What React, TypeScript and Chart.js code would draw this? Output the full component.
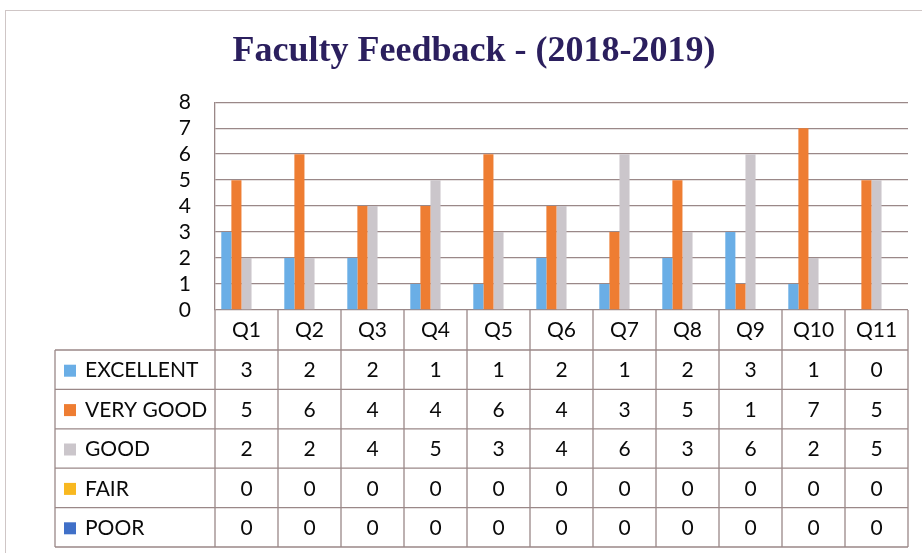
import React, { useEffect, useRef } from "react";
import { Chart, registerables } from "chart.js";

Chart.register(...registerables);

const categories = ["Q1", "Q2", "Q3", "Q4", "Q5", "Q6", "Q7", "Q8", "Q9", "Q10", "Q11"];
const excellent = [3, 2, 2, 1, 1, 2, 1, 2, 3, 1, 0];
const veryGood = [5, 6, 4, 4, 6, 4, 3, 5, 1, 7, 5];
const good = [2, 2, 4, 5, 3, 4, 6, 3, 6, 2, 5];
const fair = [0, 0, 0, 0, 0, 0, 0, 0, 0, 0, 0];
const poor = [0, 0, 0, 0, 0, 0, 0, 0, 0, 0, 0];
const seriesLabels = ["EXCELLENT", "VERY GOOD", "GOOD", "FAIR", "POOR"];
const seriesColors = ["#6aaee6", "#ee7d32", "#cbc6cb", "#f8b820", "#4070c8"];
const yMin = 0;
const yMax = 8;
const titleText = "Faculty Feedback - (2018-2019)";

const GRID = "#9a8888";
const TEXT = "#0a0a0a";
const FONT = "Lato, 'Open Sans', sans-serif";
const HEADER_H = 40;
const ROW_H = 39.4;
const LEGEND_LEFT = 55;

const tablePlugin = {
  id: "dataTable",
  beforeDraw(chart: any) {
    const ctx = chart.ctx;
    ctx.save();
    ctx.fillStyle = "#ffffff";
    ctx.fillRect(0, 0, chart.width, chart.height);
    ctx.strokeStyle = "#cfc6c6";
    ctx.lineWidth = 1;
    ctx.strokeRect(5.5, 10.5, chart.width + 20, chart.height + 20);
    ctx.restore();
  },
  afterDraw(chart: any) {
    const ctx = chart.ctx;
    const xs = chart.scales.x;
    const area = chart.chartArea;
    const n = categories.length;
    const step = (xs.getPixelForValue(n - 1) - xs.getPixelForValue(0)) / (n - 1);
    const left = xs.getPixelForValue(0) - step / 2;
    const right = xs.getPixelForValue(n - 1) + step / 2;
    const top = area.bottom;
    const headerBottom = top + HEADER_H;
    const rows = chart.data.datasets.length;
    const bottom = headerBottom + rows * ROW_H;

    ctx.save();
    ctx.strokeStyle = GRID;
    ctx.lineWidth = 1.3;
    ctx.beginPath();
    for (let r = 0; r <= rows; r++) {
      const y = headerBottom + r * ROW_H;
      ctx.moveTo(LEGEND_LEFT, y);
      ctx.lineTo(right, y);
    }
    for (let i = 0; i <= n; i++) {
      const x = left + i * step;
      ctx.moveTo(x, top);
      ctx.lineTo(x, bottom);
    }
    ctx.moveTo(LEGEND_LEFT, headerBottom);
    ctx.lineTo(LEGEND_LEFT, bottom);
    ctx.stroke();

    ctx.font = `21px ${FONT}`;
    ctx.textBaseline = "middle";
    chart.data.datasets.forEach((ds: any, r: number) => {
      const cy = headerBottom + r * ROW_H + ROW_H / 2;
      ctx.fillStyle = ds.backgroundColor;
      ctx.fillRect(LEGEND_LEFT + 9, cy - 5, 12, 12);
      ctx.fillStyle = TEXT;
      ctx.textAlign = "left";
      ctx.fillText(ds.label, LEGEND_LEFT + 30, cy + 1);
      ctx.textAlign = "center";
      ds.data.forEach((v: number, i: number) => {
        ctx.fillText(String(v), xs.getPixelForValue(i), cy + 1);
      });
    });
    ctx.restore();
  },
};

export default function App() {
  const ref = useRef<HTMLCanvasElement | null>(null);
  useEffect(() => {
    document.body.style.margin = "0";
    const series = [excellent, veryGood, good, fair, poor];
    const chart = new Chart(ref.current as HTMLCanvasElement, {
      type: "bar",
      data: {
        labels: categories,
        datasets: series.map((d, i) => ({
          label: seriesLabels[i],
          data: d,
          backgroundColor: seriesColors[i],
          borderWidth: 0,
          categoryPercentage: 0.8,
          barPercentage: 1,
        })),
      },
      plugins: [tablePlugin],
      options: {
        animation: false,
        responsive: false,
        maintainAspectRatio: false,
        layout: { padding: { left: 40, right: 14, top: 0, bottom: 0 } },
        plugins: {
          legend: { display: false },
          tooltip: { enabled: false },
          title: {
            display: true,
            text: titleText,
            color: "#2b1f5e",
            font: { family: "'Liberation Serif', serif", size: 36, weight: "bold", lineHeight: 1.2 },
            padding: { top: 30, bottom: 29 },
          },
        },
        scales: {
          x: {
            afterFit: (s: any) => {
              s.height = 243;
            },
            grid: { display: false, drawTicks: false },
            border: { display: false },
            ticks: {
              color: TEXT,
              font: { family: FONT, size: 21 },
              padding: 8,
              maxRotation: 0,
              autoSkip: false,
            },
          },
          y: {
            min: yMin,
            max: yMax,
            afterFit: (s: any) => {
              s.width = 175;
            },
            grid: { color: GRID, lineWidth: 1.3, drawTicks: false },
            border: { display: true, color: GRID, width: 1.3 },
            ticks: {
              stepSize: 1,
              autoSkip: false,
              color: TEXT,
              font: { family: FONT, size: 21 },
              padding: 24,
            },
          },
        },
      },
    });
    return () => chart.destroy();
  }, []);
  return <canvas ref={ref} width={922} height={553} style={{ display: "block" }} />;
}
